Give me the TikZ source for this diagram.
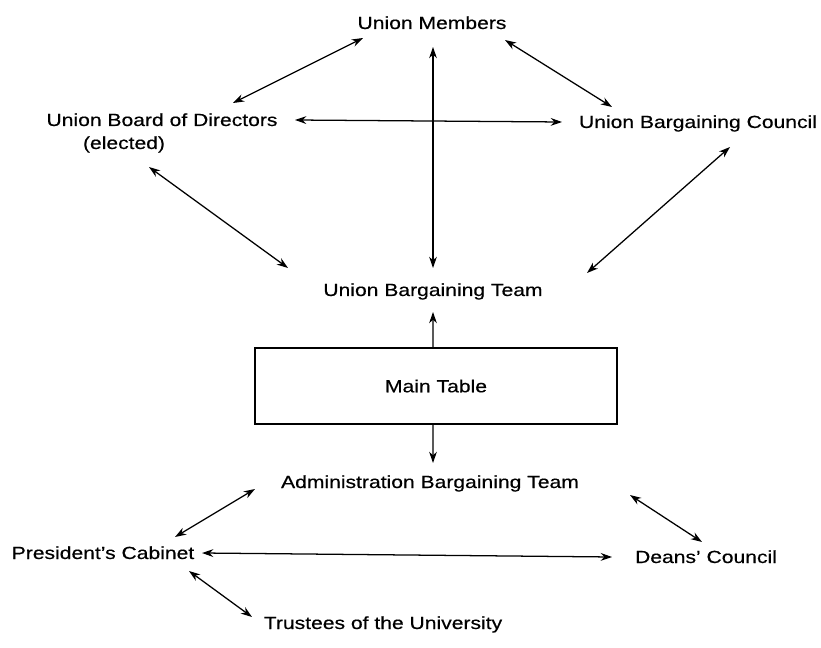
\documentclass[tikz,border=0pt]{standalone}
\usepackage{fontspec}
\setmainfont{Liberation Sans}[FakeStretch=1.2, FakeBold=0.4]
\usetikzlibrary{arrows.meta}

\begin{document}
\begin{tikzpicture}[x=0.025cm, y=-0.025cm,
    font=\fontsize{12.5}{15}\selectfont,
    >={Stealth[length=8pt,width=5.5pt]},
    lbl/.style={inner sep=0pt, anchor=base},
    link/.style={<->, line width=0.9pt},
    feed/.style={->, line width=0.9pt},
    tbl/.style={draw, line width=1.1pt, minimum width=9.05cm, minimum height=1.9cm}]
    \useasboundingbox (0,0) rectangle (821,648);

    % Union side
    \node[lbl] (members) at (432,29) {Union Members};
    \node[lbl] (board) at (162,126) {Union Board of Directors};
    \node[lbl] (elected) at (124,149) {(elected)};
    \node[lbl] (council) at (698,128) {Union Bargaining Council};
    \node[lbl] (uteam) at (433,296) {Union Bargaining Team};

    % Table
    \node[tbl] (table) at (436,386) {Main Table};

    % Administration side
    \node[lbl] (ateam) at (430,488) {Administration Bargaining Team};
    \node[lbl] (cabinet) at (103,559) {President's Cabinet};
    \node[lbl] (deans) at (706,563) {Deans' Council};
    \node[lbl] (trustees) at (383,629) {Trustees of the University};

    % Union links
    \draw[link] ([shift={(-69,9)}]members.base) -- ([shift={(71,-23)}]board.base);
    \draw[link] ([shift={(73,11)}]members.base) -- ([shift={(-86,-21)}]council.base);
    \draw[link] ([shift={(1,18)}]members.base) -- ([shift={(0,-28)}]uteam.base);
    \draw[link] ([shift={(133,-6)}]board.base) -- ([shift={(-136,-6)}]council.base);
    \draw[link] ([shift={(25,18)}]elected.base) -- ([shift={(-145,-28)}]uteam.base);
    \draw[link] ([shift={(32,19)}]council.base) -- ([shift={(154,-23)}]uteam.base);

    % Table to both teams
    \draw[feed] ([xshift=-0.075cm]table.north) -- ([shift={(0,16)}]uteam.base);
    \draw[feed] ([xshift=-0.075cm]table.south) -- ([shift={(3,-25)}]ateam.base);

    % Administration links
    \draw[link] ([shift={(-175,1)}]ateam.base) -- ([shift={(72,-22)}]cabinet.base);
    \draw[link] ([shift={(200,7)}]ateam.base) -- ([shift={(-4,-21)}]deans.base);
    \draw[link] ([shift={(99,-6)}]cabinet.base) -- ([shift={(-94,-6)}]deans.base);
    \draw[link] ([shift={(86,12)}]cabinet.base) -- ([shift={(-131,-12)}]trustees.base);
\end{tikzpicture}
\end{document}
